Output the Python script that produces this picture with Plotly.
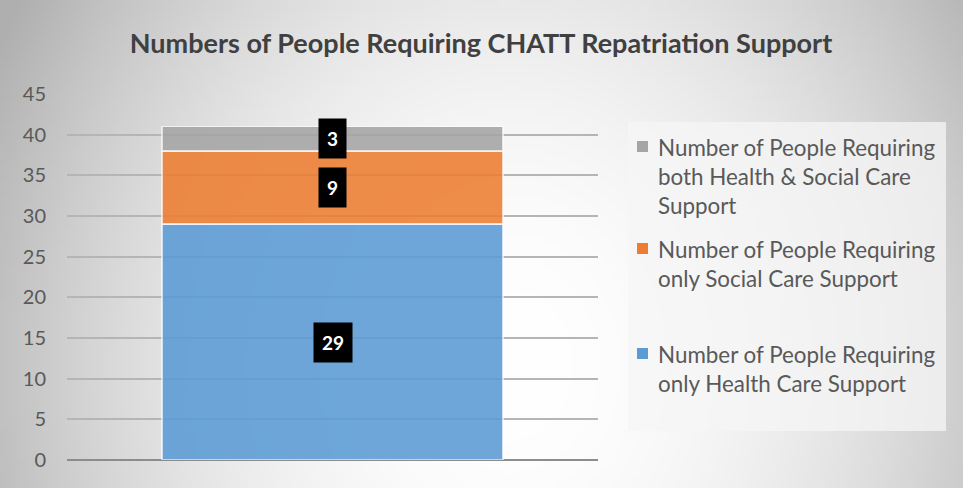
import base64
import struct
import zlib

import numpy as np
import plotly.graph_objects as go

# data
category = ["CHATT"]
series_names = [
    "Number of People Requiring<br>only Health Care Support",
    "Number of People Requiring<br>only Social Care Support",
    "Number of People Requiring<br>both Health & Social Care<br>Support",
]
series_values = [29, 9, 3]
series_colors = ["#5b9bd5", "#ed7d31", "#a5a5a5"]
y_ticks = [0, 5, 10, 15, 20, 25, 30, 35, 40, 45]

W, H = 963, 488
L, R, T, B = 67, 365, 94, 28
PW, PH = W - L - R, H - T - B
FONT = "Lato, 'Open Sans', sans-serif"


def png_data_uri(arr):
    h, w, _ = arr.shape
    raw = b"".join(b"\x00" + arr[i].tobytes() for i in range(h))

    def chunk(tag, data):
        c = tag + data
        return struct.pack(">I", len(data)) + c + struct.pack(">I", zlib.crc32(c) & 0xFFFFFFFF)

    png = b"\x89PNG\r\n\x1a\n"
    png += chunk(b"IHDR", struct.pack(">IIBBBBB", w, h, 8, 2, 0, 0, 0))
    png += chunk(b"IDAT", zlib.compress(raw, 9))
    png += chunk(b"IEND", b"")
    return "data:image/png;base64," + base64.b64encode(png).decode()


# radial grey background like the Excel chart area
gw, gh = 240, 122
xx, yy = np.meshgrid(np.linspace(0, 1, gw), np.linspace(0, 1, gh))
d2 = ((xx - 0.53) / 0.55) ** 2 + ((yy - 0.75) / 1.3) ** 2
val = np.clip(255 - 66 * np.clip(d2, 0, 1.2), 0, 255).astype(np.uint8)
bg = np.stack([val, val, val], axis=-1)


def px(x):
    return (x - L) / PW


def py(y):
    return (H - B - y) / PH


fig = go.Figure()
bottoms = np.cumsum([0] + series_values[:-1])
for name, v, c in zip(series_names, series_values, series_colors):
    fig.add_trace(go.Bar(x=category, y=[v], name=name, marker_color=c, opacity=0.88,
                         marker_line=dict(color="rgba(255,255,255,0.7)", width=1.5),
                         showlegend=False, hoverinfo="y+name"))

# black data label boxes
for v, b0 in zip(series_values, bottoms):
    fig.add_annotation(x=category[0], y=b0 + v / 2, text="<b>%d</b>" % v, showarrow=False,
                       font=dict(family=FONT, size=19, color="white"),
                       bgcolor="black", borderpad=8)

# legend panel drawn by hand so the squares sit on the first line
fig.add_shape(type="rect", xref="paper", yref="paper", x0=px(628), x1=px(946), y0=py(431), y1=py(122),
              fillcolor="rgba(246,246,246,0.75)", line_width=0, layer="below")
legend_tops = [339, 234, 132]
for name, c, top in zip(series_names, series_colors, legend_tops):
    fig.add_shape(type="rect", xref="paper", yref="paper", x0=px(637), x1=px(648),
                  y0=py(top + 20), y1=py(top + 9), fillcolor=c, line_width=0)
    fig.add_annotation(xref="paper", yref="paper", x=px(656), y=py(top), xanchor="left", yanchor="top",
                       text=name, align="left", showarrow=False,
                       font=dict(family=FONT, size=22.4, color="#595959"))

fig.add_layout_image(source=png_data_uri(bg), xref="paper", yref="paper", x=-L / PW, y=1 + T / PH,
                     sizex=W / PW, sizey=H / PH, sizing="stretch", layer="below",
                     xanchor="left", yanchor="top")

fig.update_layout(
    width=W, height=H, barmode="stack", bargap=0.358,
    margin=dict(l=L, r=R, t=T, b=B),
    paper_bgcolor="#d9d9d9", plot_bgcolor="rgba(0,0,0,0)",
    title=dict(text="<b>Numbers of People Requiring CHATT Repatriation Support</b>",
               x=481 / W, xref="container", xanchor="center", y=1 - 44 / H, yanchor="middle",
               font=dict(family=FONT, size=27, color="#404040")),
    font=dict(family=FONT),
    showlegend=False,
)
fig.update_xaxes(showticklabels=False, showgrid=False, showline=False, zeroline=False)
fig.update_yaxes(range=[0, 45], tickvals=y_ticks, gridcolor="#b5b5b5", gridwidth=1.5,
                 zeroline=True, zerolinecolor="#8c8c8c", zerolinewidth=2,
                 tickfont=dict(family=FONT, size=20, color="#595959"), ticklabelstandoff=20,
                 showline=False)

fig.write_html("out.html", config={"displayModeBar": False},
               post_script="document.body.style.margin = '0';")
